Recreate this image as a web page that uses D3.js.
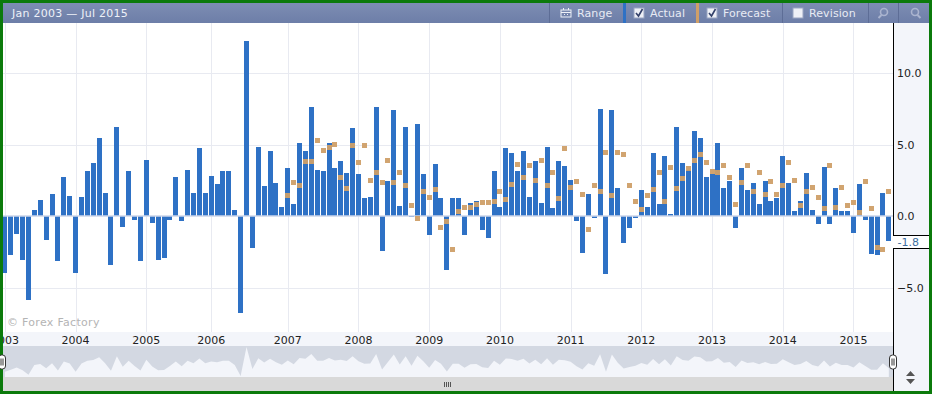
<!DOCTYPE html>
<html>
<head>
<meta charset="utf-8">
<script src="https://cdn.jsdelivr.net/npm/d3@7"></script>
<style>
body { margin: 0; background: #fff; }
svg { display: block; }
text { font-family: "DejaVu Sans", sans-serif; }
</style>
</head>
<body>
<svg id="svg" width="932" height="394"></svg>
<script>
var actual = [
  -4.0, -2.7, -1.25, -3.1, -5.9, 0.42, 1.12, -1.68, 1.54, -3.15, 2.73, 1.4,
  -3.96, 1.33, 3.15, 3.7, 5.45, 1.6, -3.4, 6.2, -0.77, 3.15, -0.28, -3.15,
  3.9, -0.5, -3.05, -2.93, -0.28, 2.73, -0.35, 3.2, 1.6, 4.75, 1.6, 2.8,
  2.24, 3.15, 3.15, 0.42, -6.8, 12.25, -2.24, 4.8, 2.1, 4.55, 2.3, 0.63,
  3.36, 0.84, 5.1, 4.55, 7.62, 3.2, 3.15, 5.1, 3.36, 3.85, 3.0, 6.15,
  2.94, 1.26, 1.33, 7.62, -2.45, 2.45, 7.4, 0.7, 6.2, -0.05, 6.43, 2.94,
  -1.33, 3.64, 1.26, -3.78, 1.26, 1.26, -1.33, 0.9, 1.05, -1.0, -1.54, 3.15,
  0.63, 4.75, 4.4, 3.15, 4.55, 1.33, 3.85, 0.9, 4.8, 0.56, 3.85, 3.5,
  2.5, -0.33, -2.56, 1.54, -0.14, 7.48, -4.05, 7.4, 1.96, -1.89, -0.84, -0.14,
  1.82, 0.63, 4.4, 0.84, 4.2, 0.14, 6.22, 3.7, 3.2, 5.94, 5.45, 2.73,
  2.94, 5.1, 1.96, 2.45, -0.84, 3.36, 1.82, 2.3, 0.84, 2.45, 1.05, 1.26,
  4.2, 2.3, 0.35, 1.05, 3.0, 0.42, -0.56, 3.43, -0.56, 1.96, 0.35, 0.35,
  -1.19, 2.24, -0.28, -2.66, -2.73, 1.6, -1.75
];

// forecast only starts in Jan 2007, the first 48 months have none
var forecast = [
  1.45, 2.35, 2.15, 3.8, 3.8, 5.3, 4.6, 4.8, 5.0, 2.7, 1.93, 4.95,
  3.75, 4.95, 2.5, 3.05, 2.35, 3.9, 2.35, 3.05, 2.15, 0.75, -0.2, 1.72,
  1.3, 1.87, -0.8, -0.37, -2.33, 0.33, 0.6, 0.6, 0.82, 0.95, 0.95, 1.03,
  1.72, 1.17, 2.2, 3.6, 2.7, 3.55, 2.5, 3.9, 2.15, 3.05, 1.24, 4.73,
  2.0, 2.42, 1.5, -0.93, 2.15, 1.72, 4.45, 1.45, 4.45, 4.3, 2.15, 1.03,
  0.47, 1.45, 1.87, 3.05, 1.03, 3.4, 1.93, 2.63, 3.33, 3.9, 4.3, 3.75,
  3.12, 3.05, 3.54, 2.7, 0.82, 2.35, 3.54, 1.72, 3.05, 1.5, 2.42, 1.5,
  2.15, 3.75, 2.5, 0.75, 1.72, 2.0, 1.3, 0.54, 3.54, 0.6, 2.0, 0.75,
  0.95, 0.26, 2.42, 0.54, -2.2, -2.33, 1.72
];
var forecastStart = 48;

// month index of each year label; the 2006 label really does sit one month early
var yearLabels = ["2003", "2004", "2005", "2006", "2007", "2008", "2009", "2010", "2011", "2012", "2013", "2014", "2015"];
var yearMonths = [0, 12, 24, 35, 48, 60, 72, 84, 96, 108, 120, 132, 144];
var yTicks = [-5, 0, 5, 10];
var lastValue = -1.8;

var buttons = ["Range", "Actual", "Forecast", "Revision"];
var buttonX = [577, 650, 723, 809];
var separators = [549, 782, 868, 898];
var checks = [{x: 634, on: true}, {x: 707, on: true}, {x: 793, on: false}];

var width = 932;
var plot = {left: 3, right: 893, top: 23, bottom: 332};
var nav = {top: 346, bottom: 377};
var blue = "#2e71c5";
var orange = "#cf9f68";

var svg = d3.select("#svg");

var months = d3.range(actual.length);

var x = d3.scaleBand()
  .domain(months)
  .range([2.4, 2.4 + 5.893 * 150 + 5])
  .paddingInner(0.15);

var y = d3.scaleLinear()
  .domain([-5, 10])
  .range([287.5, 73]);

var navY = d3.scaleLinear()
  .domain([-6.8, 12.25])
  .range([376, 347]);

function centerX(i) {
  return x(i) + x.bandwidth() / 2;
}

// frame and panels
svg.append("rect").attr("width", width).attr("height", 394).attr("fill", "#0b7a0b");
svg.append("rect").attr("x", plot.left).attr("y", plot.top)
  .attr("width", plot.right - plot.left).attr("height", plot.bottom - plot.top).attr("fill", "#fff");
svg.append("rect").attr("x", plot.right).attr("y", plot.top)
  .attr("width", 36).attr("height", 368).attr("fill", "#f3f5fa");
svg.append("rect").attr("x", plot.left).attr("y", plot.bottom)
  .attr("width", plot.right - plot.left).attr("height", 14).attr("fill", "#f3f5fa");

svg.append("defs").append("clipPath").attr("id", "plotClip")
  .append("rect").attr("x", plot.left).attr("y", plot.top)
  .attr("width", plot.right - plot.left).attr("height", nav.bottom - plot.top);

var defs = svg.select("defs");
var grad = defs.append("linearGradient").attr("id", "head").attr("x2", 0).attr("y2", 1);
grad.append("stop").attr("offset", 0).attr("stop-color", "#7d8db3");
grad.append("stop").attr("offset", 1).attr("stop-color", "#6d7ea8");

// header
var head = svg.append("g");
head.append("rect").attr("x", 3).attr("y", 3).attr("width", 926).attr("height", 20).attr("fill", "url(#head)");
head.append("text").attr("x", 12).attr("y", 17).attr("font-size", 11)
  .attr("fill", "#eef1f8").style("letter-spacing", "0.25px").text("Jan 2003 \u2014 Jul 2015");
head.selectAll(".sep").data(separators).enter().append("rect")
  .attr("class", "sep").attr("x", function(d) { return d; }).attr("y", 3)
  .attr("width", 1).attr("height", 20).attr("fill", "#5d6d96");
head.append("rect").attr("x", 623).attr("y", 3).attr("width", 3).attr("height", 20).attr("fill", blue);
head.append("rect").attr("x", 696).attr("y", 3).attr("width", 3).attr("height", 20).attr("fill", orange);
head.selectAll(".btn").data(buttons).enter().append("text")
  .attr("class", "btn").attr("x", function(d, i) { return buttonX[i]; }).attr("y", 17)
  .attr("font-size", 11).attr("fill", "#e8ebf4").style("letter-spacing", "0.1px")
  .text(function(d) { return d; });
head.selectAll(".box").data(checks).enter().append("rect")
  .attr("class", "box").attr("x", function(d) { return d.x; }).attr("y", 8)
  .attr("width", 10).attr("height", 10).attr("fill", "#eef0f6").attr("stroke", "#9aa5c2");
head.selectAll(".tick-mark").data(checks.filter(function(d) { return d.on; })).enter().append("path")
  .attr("class", "tick-mark")
  .attr("d", function(d) { return "M" + (d.x + 2) + ",13 l2.5,3 l4,-7"; })
  .attr("fill", "none").attr("stroke", "#33406a").attr("stroke-width", 1.6);

// range calendar icon
head.append("rect").attr("x", 561).attr("y", 10).attr("width", 10).attr("height", 7)
  .attr("fill", "none").attr("stroke", "#eef1f8");
head.append("path").attr("d", "M561,12.5h10M563.5,8v2M568.5,8v2M564,14.5h1M567,14.5h1")
  .attr("stroke", "#eef1f8").attr("fill", "none");

// magnifiers
[884, 915].forEach(function(cx, i) {
  head.append("circle").attr("cx", cx).attr("cy", 12).attr("r", 3.5)
    .attr("fill", "none").attr("stroke", "#aab4cf").attr("stroke-width", 1.6);
  head.append("path").attr("d", i == 0
      ? "M" + (cx - 2.5) + "," + 15 + "l-3,3"
      : "M" + (cx + 2.5) + "," + 15 + "l3,3")
    .attr("stroke", "#aab4cf").attr("stroke-width", 2);
});

// grid
var grid = svg.append("g").attr("clip-path", "url(#plotClip)");
grid.selectAll(".vgrid").data(yearMonths).enter().append("line")
  .attr("class", "vgrid")
  .attr("x1", function(d) { return Math.round(centerX(d)) + 0.5; })
  .attr("x2", function(d) { return Math.round(centerX(d)) + 0.5; })
  .attr("y1", plot.top).attr("y2", plot.bottom)
  .attr("stroke", "#e8eaf1");
grid.selectAll(".hgrid").data(yTicks.filter(function(d) { return d != 0; })).enter().append("line")
  .attr("class", "hgrid")
  .attr("x1", plot.left).attr("x2", plot.right)
  .attr("y1", function(d) { return Math.round(y(d)) + 0.5; })
  .attr("y2", function(d) { return Math.round(y(d)) + 0.5; })
  .attr("stroke", "#e8eaf1");

// bars
svg.append("g").attr("clip-path", "url(#plotClip)")
  .selectAll("rect").data(actual).enter().append("rect")
  .attr("x", function(d, i) { return Math.round(x(i)); })
  .attr("width", 5)
  .attr("y", function(d) { return Math.round(y(Math.max(d, 0))); })
  .attr("height", function(d) { return Math.max(1, Math.round(Math.abs(y(d) - y(0)))); })
  .attr("fill", blue);

// zero line
svg.append("line").attr("x1", plot.left).attr("x2", plot.right)
  .attr("y1", y(0)).attr("y2", y(0))
  .attr("stroke", "#cdd6ea").attr("stroke-width", 1.5);

// forecast squares
svg.append("g").selectAll("rect").data(forecast).enter().append("rect")
  .attr("x", function(d, i) { return Math.round(centerX(i + forecastStart) - 2.5); })
  .attr("y", function(d) { return Math.round(y(d) - 2.5); })
  .attr("width", 5).attr("height", 5)
  .attr("fill", orange).attr("opacity", 0.95);

svg.append("text").attr("x", 7).attr("y", 326).attr("font-size", 11)
  .attr("fill", "#b4b4b4").style("letter-spacing", "0.3px").text("\u00a9 Forex Factory");

// x axis
var axisBottom = d3.axisBottom(x)
  .tickValues(yearMonths)
  .tickSize(0)
  .tickFormat(function(d) { return yearLabels[yearMonths.indexOf(d)]; });

svg.append("g")
  .attr("clip-path", "url(#plotClip)")
  .append("g")
  .attr("transform", "translate(0," + (plot.bottom + 1) + ")")
  .call(axisBottom)
  .call(function(g) { g.select(".domain").remove(); })
  .selectAll("text").attr("font-size", 11).attr("font-family", "DejaVu Sans").attr("fill", "#222");

// y axis
var axisRight = d3.axisRight(y)
  .tickValues(yTicks)
  .tickSize(0)
  .tickPadding(4)
  .tickFormat(d3.format(".1f"));

svg.append("g")
  .attr("transform", "translate(" + plot.right + ",0)")
  .call(axisRight)
  .call(function(g) { g.select(".domain").remove(); })
  .selectAll("text").attr("font-size", 11).attr("font-family", "DejaVu Sans").attr("fill", "#222");

// navigator
svg.append("rect").attr("x", plot.left).attr("y", nav.top)
  .attr("width", plot.right - plot.left).attr("height", nav.bottom - nav.top).attr("fill", "#d3d8e2");

var navArea = d3.area()
  .x(function(d, i) { return centerX(i); })
  .y0(nav.bottom)
  .y1(function(d) { return navY(d); });

svg.append("path").datum(actual)
  .attr("clip-path", "url(#plotClip)")
  .attr("d", navArea)
  .attr("fill", "#f3f5fa");

svg.append("rect").attr("x", plot.left).attr("y", nav.bottom)
  .attr("width", plot.right - plot.left).attr("height", 14).attr("fill", "#d9d9d9");
svg.append("path").attr("d", "M444.5,382v5M446.5,382v5M448.5,382v5M450.5,382v5").attr("stroke", "#555");

// axis edge line and last value flag
svg.append("line").attr("x1", plot.right + 0.5).attr("x2", plot.right + 0.5)
  .attr("y1", plot.top).attr("y2", 391).attr("stroke", "#000");

svg.append("rect").attr("x", plot.right).attr("y", 235)
  .attr("width", 36).attr("height", 13).attr("fill", "#fff");
svg.append("path").attr("d", "M893,235.5h36M893,248.5h36").attr("stroke", "#000");
svg.append("text").attr("x", plot.right + 4.5).attr("y", y(lastValue) + 4)
  .attr("font-size", 11).attr("fill", "#3f6f9f").text(d3.format(".1f")(lastValue).replace("\u2212", "-"));

// navigator handles
[plot.left - 1, plot.right].forEach(function(hx) {
  svg.append("rect").attr("x", hx - 3.5).attr("y", 355).attr("width", 7).attr("height", 14).attr("rx", 3)
    .attr("fill", "#fff").attr("stroke", "#333");
  svg.append("path").attr("d", "M" + (hx - 1) + ",358.5v7M" + (hx + 1) + ",358.5v7").attr("stroke", "#333");
});

// resize arrows
svg.append("path").attr("d", "M906,376l4.5,-5l4.5,5zM906,379l4.5,5l4.5,-5z").attr("fill", "#555");
</script>
</body>
</html>
